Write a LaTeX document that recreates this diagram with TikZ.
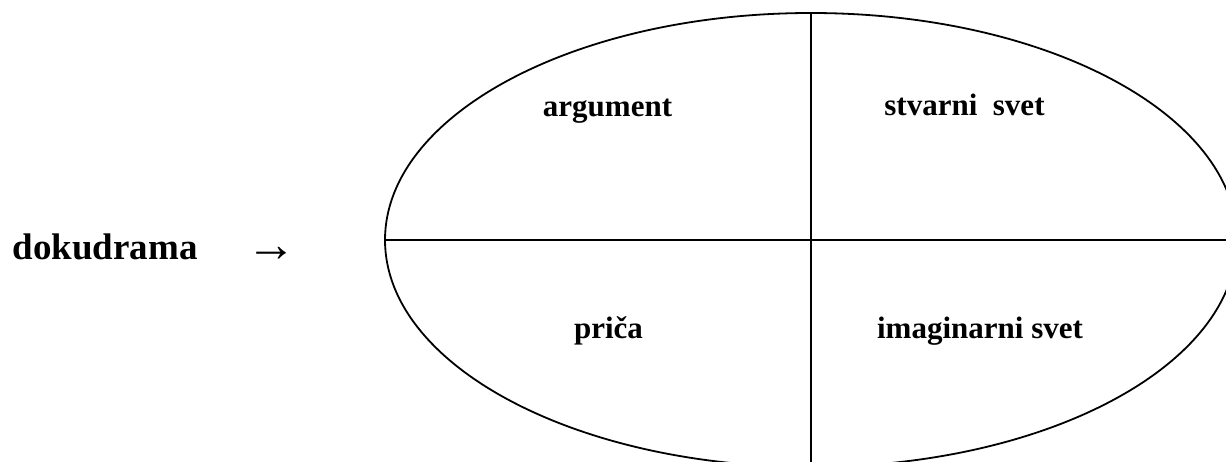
\documentclass[tikz,border=0pt]{standalone}
\usepackage{fontspec}
\setmainfont{Liberation Serif}
\usetikzlibrary{shapes.geometric, positioning}

\begin{document}
\begin{tikzpicture}[x=1pt, y=-1pt,
    oval/.style={ellipse, draw, line width=1.8pt, minimum width=852pt, minimum height=454pt, inner sep=0pt},
    part/.style={line width=1.8pt},
    quad/.style={anchor=base, inner sep=0pt, font=\fontsize{31}{34}\selectfont\bfseries},
    title/.style={anchor=base, inner sep=0pt, font=\fontsize{37}{40}\selectfont\bfseries},
    pointer/.style={anchor=base, inner sep=0pt, font=\fontsize{50}{54}\selectfont}]
    \useasboundingbox (0,0) rectangle (1226,462);
    \node [oval] (whole) at (811,240) {};
    \draw [part] (whole.north) -- (whole.south);
    \draw [part] (whole.west) -- (whole.east);
    % four parts
    \node [quad] (arg) at (607.5,117) {argument};
    \node [quad] (real) at (964.5,116) {stvarni~~svet};
    \node [quad] (story) at (608.5,338) {priča};
    \node [quad] (imag) at (980,338) {imaginarni svet};
    % left label
    \node [title] (docu) at (105,260) {dokudrama};
    \node [pointer] (arrow) at (271,262) {→};
\end{tikzpicture}
\end{document}
